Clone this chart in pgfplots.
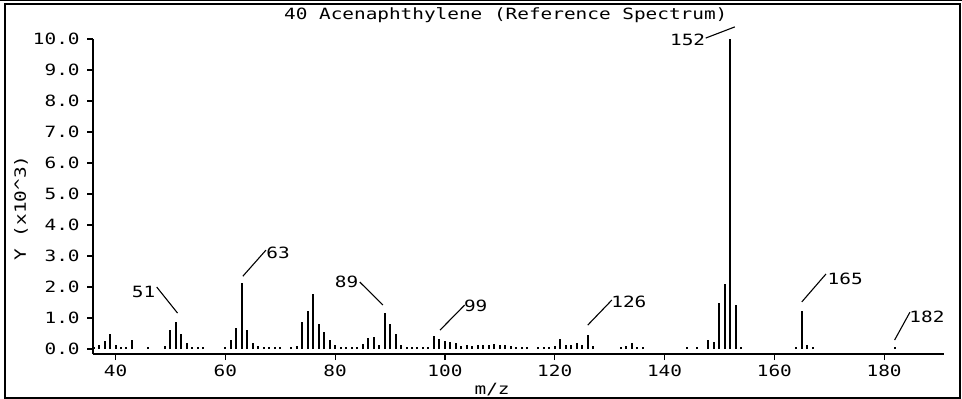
\documentclass[border=0pt]{standalone}
\usepackage{pgfplots}
\pgfplotsset{compat=1.18}
\usepackage{pgfplotstable}
\usepackage{fontspec}
\newfontfamily\plotfont[FakeStretch=1.25]{DejaVu Sans Mono}

\pgfplotstableread{
m v
36 0.05
37 0.12
38 0.25
39 0.48
40 0.12
41 0.08
42 0.06
43 0.30
46 0.08
49 0.10
50 0.61
51 0.88
52 0.50
53 0.20
54 0.07
55 0.07
56 0.06
60 0.05
61 0.30
62 0.68
63 2.12
64 0.62
65 0.20
66 0.10
67 0.07
68 0.06
69 0.06
70 0.06
72 0.05
73 0.10
74 0.86
75 1.24
76 1.78
77 0.80
78 0.54
79 0.28
80 0.12
81 0.07
82 0.06
83 0.06
84 0.06
85 0.16
86 0.35
87 0.40
88 0.12
89 1.17
90 0.80
91 0.47
92 0.12
93 0.07
94 0.06
95 0.06
96 0.06
97 0.07
98 0.43
99 0.33
100 0.27
101 0.22
102 0.18
103 0.10
104 0.12
105 0.10
106 0.14
107 0.14
108 0.12
109 0.15
110 0.12
111 0.14
112 0.10
113 0.06
114 0.06
115 0.05
117 0.08
118 0.07
119 0.07
120 0.10
121 0.33
122 0.12
123 0.13
124 0.18
125 0.14
126 0.46
127 0.10
132 0.06
133 0.10
134 0.18
135 0.08
136 0.06
144 0.05
146 0.05
148 0.28
149 0.24
150 1.47
151 2.10
152 10.00
153 1.42
154 0.08
164 0.07
165 1.22
166 0.12
167 0.05
182 0.05
}\spectrum

\begin{document}
\plotfont\fontsize{15.5bp}{18bp}\selectfont
\begin{tikzpicture}
\useasboundingbox (0,0) rectangle (962bp,399bp);
\draw[line width=1.5bp] (5bp,1bp) rectangle (960bp,395bp);
\draw[line width=1bp] (0bp,398bp) -- (962bp,398bp);
\begin{axis}[
  at={(93bp,45bp)}, anchor=south west,
  scale only axis, width=851bp, height=315bp,
  xmin=35.9, xmax=190.9, ymin=-0.16, ymax=10,
  axis lines=left, axis line style={line width=1.5bp, -},
  tick align=outside, major tick length=6bp,
  tick style={line width=1.2bp, black},
  xtick={40,60,...,180}, ytick={0,1,...,10},
  minor tick num=0,
  /pgf/number format/assume math mode=true,
  yticklabel style={/pgf/number format/fixed, /pgf/number format/fixed zerofill, /pgf/number format/precision=1, xshift=-2bp},
  xticklabel style={/pgf/number format/fixed},
  xlabel={m/z},
  xlabel style={at={(axis description cs:0.469,-0.114)}, anchor=center},
  ylabel={Y (x10\textasciicircum 3)},
  ylabel style={at={(axis description cs:-0.0846,0.463)}, anchor=center, rotate=0},
  clip=false,
]
\addplot[ycomb, black, line width=2bp] table[x=m, y=v] {\spectrum};
\node at (axis description cs:0.485,1.076) {40 Acenaphthylene (Reference Spectrum)};
% peak annotations
\draw[line width=1.1bp] (axis cs:47.5,2.0) -- (axis cs:51.3,1.16);
\node at (axis cs:45.1,1.84) {51};
\draw[line width=1.1bp] (axis cs:63.2,2.35) -- (axis cs:67.4,3.19);
\node at (axis cs:69.6,3.1) {63};
\draw[line width=1.1bp] (axis cs:84.5,2.16) -- (axis cs:88.7,1.42);
\node at (axis cs:82.1,2.16) {89};
\draw[line width=1.1bp] (axis cs:99.1,0.61) -- (axis cs:103.6,1.42);
\node at (axis cs:105.6,1.39) {99};
\draw[line width=1.1bp] (axis cs:126.0,0.77) -- (axis cs:130.4,1.58);
\node at (axis cs:133.5,1.52) {126};
\draw[line width=1.1bp] (axis cs:147.5,10.03) -- (axis cs:152.8,10.39);
\node at (axis cs:144.2,9.97) {152};
\draw[line width=1.1bp] (axis cs:165.0,1.52) -- (axis cs:169.4,2.42);
\node at (axis cs:172.9,2.26) {165};
\draw[line width=1.1bp] (axis cs:181.9,0.29) -- (axis cs:184.7,1.19);
\node at (axis cs:187.8,1.03) {182};
\end{axis}
\end{tikzpicture}
\end{document}
